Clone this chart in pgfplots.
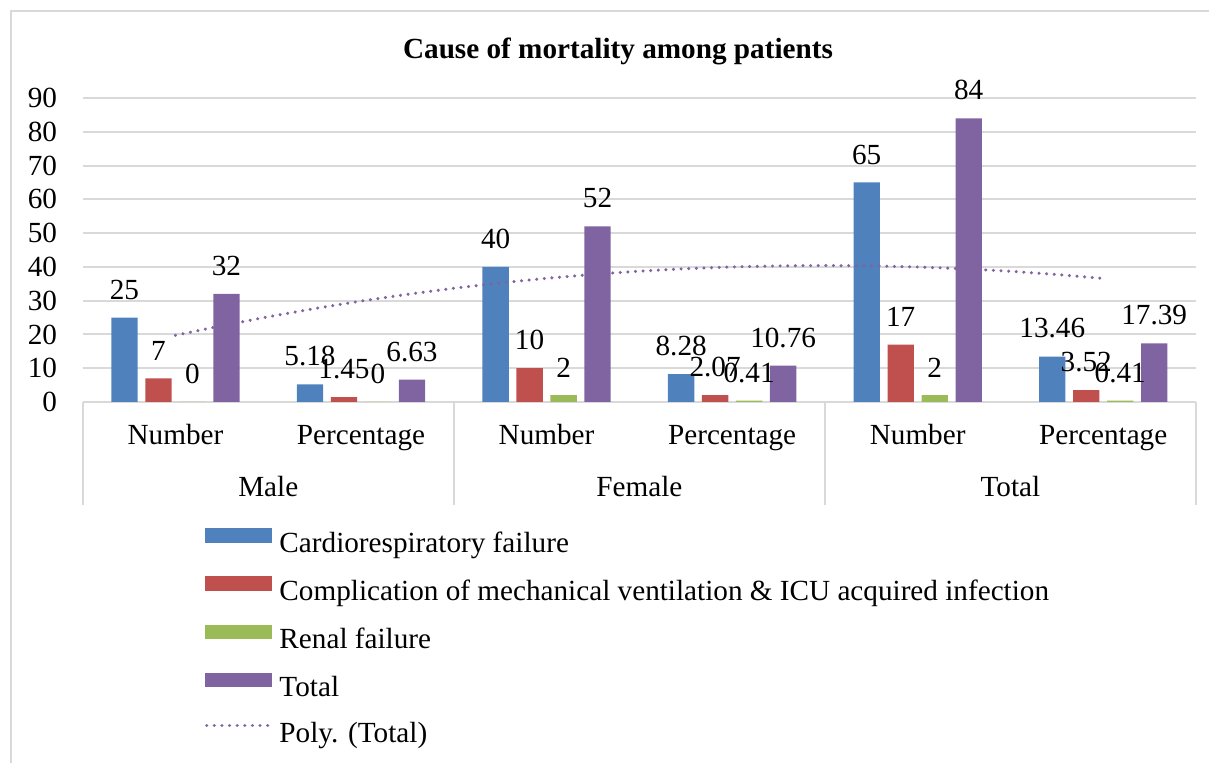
\documentclass[border=0pt]{standalone}
\usepackage{pgfplots}
\pgfplotsset{compat=1.18}
\usepackage{fontspec}
\setmainfont{Liberation Serif}
\definecolor{cblue}{HTML}{4F81BD}
\definecolor{cred}{HTML}{C0504D}
\definecolor{cgreen}{HTML}{9BBB59}
\definecolor{cpurple}{HTML}{8064A2}
\definecolor{gridc}{HTML}{D9D9D9}
\begin{document}
\fontsize{14.6}{17.5}\selectfont
\begin{tikzpicture}
\useasboundingbox (-41.35pt,-180.5pt) rectangle (563.15pt,201pt);
\draw[gridc, line width=1pt] (-35.85pt,-185pt) -- (-35.85pt,195.25pt) -- (570pt,195.25pt);
\node[anchor=base, font=\fontsize{14.6}{17.5}\selectfont\bfseries] at (267.65pt,171.85pt) {Cause of mortality among patients};
\begin{axis}[
  at={(0pt,0pt)}, anchor=south west,
  width=556.65pt, height=152pt, scale only axis,
  xmin=-0.5, xmax=5.5, ymin=0, ymax=90,
  ytick={0,10,...,90},
  xtick={0,...,5},
  xticklabels={Number,Percentage,Number,Percentage,Number,Percentage},
  /pgf/number format/assume math mode=true,
  axis line style={draw=none},
  major tick length=0pt,
  ymajorgrids, grid style={gridc, line width=1pt},
  yticklabel style={anchor=east, xshift=-7.8pt},
  xticklabel style={anchor=base, yshift=-21.5pt, inner sep=0pt},
  clip=false,
  nodes near coords,
  nodes near coords style={anchor=south, yshift=4pt, text=black},
  legend cell align=left,
  legend style={at={(axis description cs:0.10985,-0.4155)}, anchor=north west,
    draw=none, fill=none, inner sep=0pt, outer sep=0pt,
    row sep=8.5pt, column sep=3.7pt,
    nodes={inner sep=0pt, text height=10.7pt, text depth=3.6pt}},
]
\addplot[ybar, bar width=0.142, bar shift=-0.2748, fill=cblue, draw=none,
  nodes near coords style={xshift=-25.49pt},
  legend image code/.code={\fill[cblue] (0pt,1.1pt) rectangle (33.5pt,8.4pt);}]
  coordinates {(0,25) (1,5.18) (2,40) (3,8.28) (4,65) (5,13.46)};
\addplot[ybar, bar width=0.142, bar shift=-0.0916, fill=cred, draw=none,
  nodes near coords style={xshift=-8.50pt},
  legend image code/.code={\fill[cred] (0pt,1.1pt) rectangle (33.5pt,8.4pt);}]
  coordinates {(0,7) (1,1.45) (2,10) (3,2.07) (4,17) (5,3.52)};
\addplot[ybar, bar width=0.142, bar shift=0.0916, fill=cgreen, draw=none,
  nodes near coords style={xshift=8.50pt},
  legend image code/.code={\fill[cgreen] (0pt,1.1pt) rectangle (33.5pt,8.4pt);}]
  coordinates {(0,0) (1,0) (2,2) (3,0.41) (4,2) (5,0.41)};
\addplot[ybar, bar width=0.142, bar shift=0.2748, fill=cpurple, draw=none,
  nodes near coords style={xshift=25.49pt},
  legend image code/.code={\fill[cpurple] (0pt,1.1pt) rectangle (33.5pt,8.4pt);}]
  coordinates {(0,32) (1,6.63) (2,52) (3,10.76) (4,84) (5,17.39)};
\addplot[cpurple, line width=1.7pt, dash pattern=on 0.01pt off 3.8pt, line cap=round, no marks, nodes near coords=,
  legend image code/.code={\draw[cpurple, line width=1.7pt, dash pattern=on 0.01pt off 3.8pt, line cap=round] (0.8pt,4.75pt) -- (32pt,4.75pt);}]
  coordinates {(0,19.74) (0.25,22.59) (0.5,25.23) (0.75,27.66) (1,29.88) (1.25,31.88) (1.5,33.67) (1.75,35.25) (2,36.62) (2.25,37.78) (2.5,38.73) (2.75,39.47) (3,39.99) (3.25,40.30) (3.5,40.41) (3.75,40.30) (4,39.97) (4.25,39.44) (4.5,38.70) (4.75,37.74) (5,36.58)};
\legend{Cardiorespiratory failure, Complication of mechanical ventilation \& ICU acquired infection, Renal failure, Total, Poly. (Total)}
\draw[gridc, line width=1pt] (axis cs:-0.5,0) -- ([yshift=-51.5pt]axis cs:-0.5,0);
\draw[gridc, line width=1pt] (axis cs:1.5,0) -- ([yshift=-51.5pt]axis cs:1.5,0);
\draw[gridc, line width=1pt] (axis cs:3.5,0) -- ([yshift=-51.5pt]axis cs:3.5,0);
\draw[gridc, line width=1pt] (axis cs:5.5,0) -- ([yshift=-51.5pt]axis cs:5.5,0);
\node[anchor=base, inner sep=0pt, yshift=-47.5pt] at (axis cs:0.5,0) {Male};
\node[anchor=base, inner sep=0pt, yshift=-47.5pt] at (axis cs:2.5,0) {Female};
\node[anchor=base, inner sep=0pt, yshift=-47.5pt] at (axis cs:4.5,0) {Total};
\end{axis}
\end{tikzpicture}
\end{document}
